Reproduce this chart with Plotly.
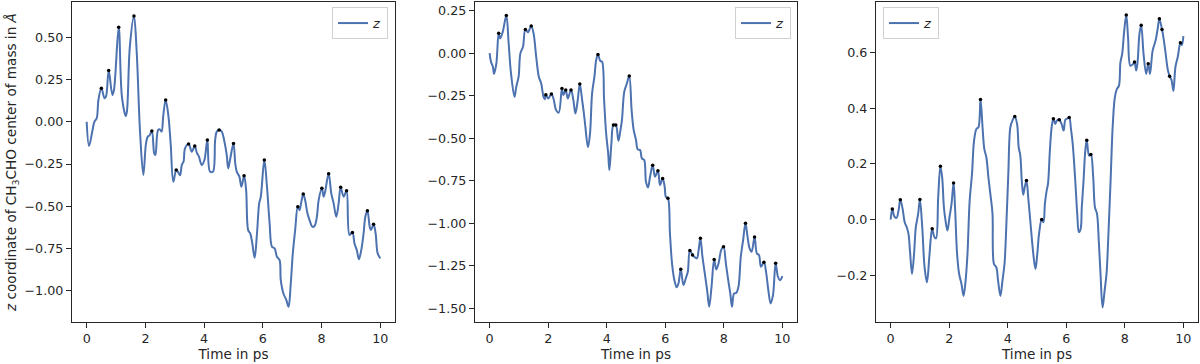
import plotly.graph_objects as go

# panel 1: z coordinate of CH3CHO centre of mass (run 1)
t1 = [0.00, 0.08, 0.20, 0.26, 0.34, 0.40, 0.50, 0.61, 0.66, 0.75, 0.875, 0.93, 1.09, 1.20, 1.33, 1.37,
      1.47, 1.61, 1.70, 1.82, 1.93, 2.02, 2.08, 2.14, 2.22, 2.30, 2.34, 2.43, 2.49, 2.55, 2.61, 2.69,
      2.78, 2.86, 2.95, 3.05, 3.12, 3.18, 3.24, 3.30, 3.35, 3.47, 3.58, 3.68, 3.75, 3.82, 3.92, 4.01,
      4.11, 4.20, 4.30, 4.375, 4.43, 4.51, 4.60, 4.68, 4.77, 4.82, 4.89, 5.00, 5.06, 5.11, 5.20, 5.27,
      5.36, 5.43, 5.50, 5.57, 5.64, 5.72, 5.80, 5.875, 5.93, 6.05, 6.14, 6.23, 6.31, 6.40, 6.48, 6.57,
      6.61, 6.70, 6.80, 6.875, 6.95, 7.02, 7.10, 7.19, 7.25, 7.31, 7.375, 7.44, 7.52, 7.61, 7.68, 7.76,
      7.84, 7.90, 8.01, 8.07, 8.12, 8.24, 8.33, 8.41, 8.50, 8.58, 8.65, 8.75, 8.85, 8.95, 9.05, 9.12,
      9.20, 9.27, 9.35, 9.43, 9.49, 9.56, 9.64, 9.68, 9.77, 9.84, 9.91, 10.0]
z1 = [0.000, -0.143, -0.049, 0.000, 0.020, 0.129, 0.198, 0.139, 0.150, 0.303, 0.159, 0.190, 0.559, 0.149, 0.034, 0.060,
      0.445, 0.626, 0.425, -0.068, -0.315, -0.128, -0.088, -0.080, -0.055, -0.187, -0.197, -0.049, -0.045, -0.058, 0.040, 0.129,
      0.040, -0.128, -0.355, -0.285, -0.300, -0.317, -0.255, -0.235, -0.157, -0.132, -0.177, -0.143, -0.182, -0.205, -0.256, -0.226,
      -0.108, -0.295, -0.295, -0.108, -0.058, -0.049, -0.058, -0.108, -0.197, -0.276, -0.217, -0.128, -0.246, -0.295, -0.325, -0.384,
      -0.319, -0.404, -0.641, -0.661, -0.720, -0.805, -0.661, -0.483, -0.443, -0.226, -0.384, -0.601, -0.739, -0.749, -0.799, -0.819,
      -0.937, -1.016, -1.055, -1.095, -0.957, -0.779, -0.641, -0.503, -0.523, -0.474, -0.428, -0.464, -0.543, -0.592, -0.621, -0.617,
      -0.562, -0.464, -0.394, -0.443, -0.414, -0.307, -0.424, -0.483, -0.562, -0.483, -0.388, -0.443, -0.408, -0.670, -0.655, -0.720,
      -0.760, -0.814, -0.760, -0.661, -0.562, -0.526, -0.622, -0.641, -0.607, -0.661, -0.779, -0.808]
peak_t1 = [0.50, 0.75, 1.09, 1.61, 2.22, 2.69, 3.05, 3.47, 3.68, 4.11, 4.51, 5.00, 5.36, 6.05, 7.19, 7.375,
           8.01, 8.24, 8.65, 8.85, 9.05, 9.56, 9.77]
peak_z1 = [0.198, 0.303, 0.559, 0.626, -0.055, 0.129, -0.285, -0.132, -0.143, -0.108, -0.049, -0.128, -0.319, -0.226, -0.503, -0.428,
           -0.394, -0.307, -0.388, -0.408, -0.655, -0.526, -0.607]

# panel 2
t2 = [0.00, 0.045, 0.11, 0.15, 0.23, 0.31, 0.36, 0.45, 0.57, 0.65, 0.73, 0.85, 0.91, 0.99, 1.05, 1.14,
      1.22, 1.31, 1.42, 1.50, 1.59, 1.68, 1.76, 1.84, 1.88, 1.92, 2.00, 2.11, 2.18, 2.27, 2.36, 2.47,
      2.52, 2.60, 2.67, 2.78, 2.86, 2.93, 3.01, 3.08, 3.16, 3.22, 3.27, 3.36, 3.43, 3.50, 3.58, 3.64,
      3.70, 3.78, 3.84, 3.91, 3.98, 4.05, 4.09, 4.16, 4.23, 4.31, 4.40, 4.47, 4.52, 4.60, 4.69, 4.77,
      4.85, 4.92, 5.00, 5.06, 5.14, 5.20, 5.28, 5.34, 5.41, 5.48, 5.57, 5.65, 5.75, 5.82, 5.91, 5.98,
      6.02, 6.09, 6.16, 6.23, 6.31, 6.39, 6.45, 6.53, 6.62, 6.70, 6.77, 6.84, 6.93, 6.99, 7.08, 7.14,
      7.20, 7.27, 7.35, 7.43, 7.50, 7.58, 7.67, 7.74, 7.82, 7.91, 7.99, 8.07, 8.15, 8.22, 8.28, 8.35,
      8.42, 8.50, 8.58, 8.66, 8.74, 8.81, 8.88, 8.95, 9.05, 9.13, 9.20, 9.27, 9.37, 9.45, 9.52, 9.60,
      9.68, 9.77, 9.85, 9.92, 10.0]
z2 = [0.000, -0.050, -0.079, -0.122, -0.060, 0.117, 0.087, 0.127, 0.221, 0.058, -0.118, -0.256, -0.197, -0.138, -0.001, 0.038,
      0.140, 0.123, 0.160, 0.117, -0.020, -0.138, -0.177, -0.256, -0.271, -0.244, -0.266, -0.240, -0.266, -0.334, -0.350, -0.207,
      -0.246, -0.216, -0.266, -0.216, -0.275, -0.354, -0.275, -0.181, -0.275, -0.354, -0.432, -0.553, -0.471, -0.236, -0.138, -0.040,
      -0.007, -0.046, -0.050, -0.275, -0.471, -0.589, -0.687, -0.530, -0.422, -0.422, -0.514, -0.451, -0.393, -0.226, -0.177, -0.134,
      -0.334, -0.451, -0.510, -0.565, -0.569, -0.618, -0.628, -0.755, -0.789, -0.726, -0.659, -0.726, -0.691, -0.775, -0.736, -0.785,
      -0.844, -0.853, -1.060, -1.235, -1.333, -1.376, -1.353, -1.270, -1.363, -1.324, -1.285, -1.160, -1.186, -1.196, -1.206, -1.157,
      -1.088, -1.196, -1.294, -1.392, -1.490, -1.373, -1.212, -1.271, -1.236, -1.157, -1.137, -1.236, -1.334, -1.412, -1.490, -1.412,
      -1.410, -1.373, -1.196, -1.098, -1.000, -1.078, -1.147, -1.167, -1.080, -1.177, -1.186, -1.255, -1.229, -1.294, -1.392, -1.471,
      -1.422, -1.235, -1.314, -1.334, -1.310]
peak_t2 = [0.31, 0.57, 1.22, 1.42, 1.92, 2.11, 2.47, 2.60, 2.78, 3.08, 3.70, 4.23, 4.31, 4.77, 5.57, 5.75,
           5.91, 6.09, 6.53, 6.84, 6.93, 7.20, 7.67, 7.99, 8.74, 9.05, 9.37, 9.77]
peak_z2 = [0.117, 0.221, 0.140, 0.160, -0.244, -0.240, -0.207, -0.216, -0.216, -0.181, -0.007, -0.422, -0.422, -0.134, -0.659, -0.691,
           -0.736, -0.853, -1.270, -1.160, -1.186, -1.088, -1.212, -1.137, -1.000, -1.080, -1.229, -1.235]

# panel 3
t3 = [0.00, 0.057, 0.125, 0.20, 0.27, 0.33, 0.41, 0.48, 0.55, 0.61, 0.66, 0.73, 0.80, 0.86, 0.94, 1.00,
      1.08, 1.16, 1.24, 1.32, 1.375, 1.42, 1.49, 1.55, 1.625, 1.70, 1.76, 1.82, 1.875, 1.94, 2.01, 2.08,
      2.15, 2.20, 2.27, 2.34, 2.42, 2.49, 2.56, 2.625, 2.70, 2.78, 2.85, 2.93, 3.00, 3.07, 3.14, 3.20,
      3.27, 3.34, 3.42, 3.48, 3.53, 3.61, 3.67, 3.75, 3.82, 3.89, 3.95, 4.02, 4.09, 4.16, 4.24, 4.32,
      4.375, 4.43, 4.48, 4.53, 4.58, 4.64, 4.70, 4.77, 4.84, 4.90, 4.95, 5.01, 5.07, 5.16, 5.22, 5.27,
      5.33, 5.375, 5.44, 5.50, 5.56, 5.625, 5.68, 5.76, 5.84, 5.91, 5.97, 6.03, 6.10, 6.16, 6.22, 6.30,
      6.375, 6.43, 6.49, 6.53, 6.59, 6.65, 6.70, 6.78, 6.84, 6.92, 6.98, 7.05, 7.11, 7.17, 7.24, 7.31,
      7.375, 7.44, 7.51, 7.59, 7.66, 7.73, 7.80, 7.85, 7.91, 7.98, 8.05, 8.11, 8.19, 8.27, 8.33, 8.39,
      8.44, 8.50, 8.56, 8.64, 8.73, 8.80, 8.86, 8.95, 9.05, 9.13, 9.18, 9.27, 9.30, 9.38, 9.47, 9.53,
      9.60, 9.66, 9.73, 9.81, 9.90, 9.95, 10.0]
z3 = [0.000, 0.038, 0.011, 0.006, 0.032, 0.071, 0.038, -0.010, -0.028, -0.052, -0.112, -0.196, -0.124, -0.028, 0.020, 0.072,
      -0.028, -0.172, -0.226, -0.136, -0.064, -0.033, -0.062, -0.068, 0.080, 0.192, 0.152, 0.044, -0.004, -0.040, 0.008, 0.056,
      0.131, 0.044, -0.124, -0.196, -0.232, -0.275, -0.221, -0.124, 0.068, 0.164, 0.284, 0.326, 0.332, 0.432, 0.332, 0.254,
      0.224, 0.152, 0.080, 0.020, -0.160, -0.172, -0.220, -0.275, -0.220, -0.160, -0.028, 0.164, 0.332, 0.356, 0.371, 0.344,
      0.260, 0.230, 0.140, 0.089, 0.116, 0.140, 0.080, -0.004, -0.088, -0.148, -0.178, -0.124, -0.052, 0.000, -0.010, 0.056,
      0.104, 0.128, 0.248, 0.332, 0.363, 0.344, 0.356, 0.359, 0.344, 0.320, 0.359, 0.363, 0.367, 0.326, 0.272, 0.152,
      0.020, -0.046, -0.034, 0.044, 0.140, 0.248, 0.285, 0.230, 0.234, 0.152, 0.044, 0.020, -0.076, -0.196, -0.317, -0.256,
      -0.196, -0.052, 0.128, 0.344, 0.440, 0.470, 0.482, 0.566, 0.596, 0.680, 0.736, 0.656, 0.554, 0.558, 0.567, 0.536,
      0.572, 0.668, 0.699, 0.596, 0.524, 0.561, 0.524, 0.608, 0.644, 0.692, 0.723, 0.684, 0.668, 0.610, 0.538, 0.516,
      0.500, 0.463, 0.550, 0.586, 0.636, 0.628, 0.660]
peak_t3 = [0.057, 0.33, 1.00, 1.42, 1.70, 2.15, 3.07, 4.24, 4.64, 5.16, 5.56, 5.76, 6.10, 6.70, 6.84, 8.05,
           8.33, 8.56, 8.80, 9.18, 9.27, 9.53, 9.90]
peak_z3 = [0.038, 0.071, 0.072, -0.033, 0.192, 0.131, 0.432, 0.371, 0.140, 0.000, 0.363, 0.359, 0.367, 0.285, 0.234, 0.736,
           0.567, 0.699, 0.561, 0.723, 0.684, 0.516, 0.636]

panels = [(t1, z1, peak_t1, peak_z1), (t2, z2, peak_t2, peak_z2), (t3, z3, peak_t3, peak_z3)]

LINE = "#4c72b0"
INK = "#262626"
FONT = "DejaVu Sans"

fig = go.Figure()

domains = [(72 / 1200, 395 / 1200), (475 / 1200, 797 / 1200), (876 / 1200, 1198 / 1200)]
yranges = [(-1.185, 0.709), (-1.58, 0.301), (-0.369, 0.783)]
ydticks = [0.25, 0.25, 0.2]
yformats = [".2f", ".2f", ".1f"]
legends = [
    dict(x=388 / 1200, xanchor="right"),
    dict(x=791 / 1200, xanchor="right"),
    dict(x=883 / 1200, xanchor="left"),
]

for i, (t, z, pt, pz) in enumerate(panels):
    n = "" if i == 0 else str(i + 1)
    leg = "legend" + n
    fig.add_trace(
        go.Scatter(
            x=t, y=z,
            xaxis="x" + n, yaxis="y" + n,
            mode="lines",
            name="<i>z</i>",
            line=dict(color=LINE, width=2, shape="spline", smoothing=1.0),
            legend=leg,
            showlegend=True,
        )
    )
    fig.add_trace(
        go.Scatter(
            x=pt, y=pz,
            xaxis="x" + n, yaxis="y" + n,
            mode="markers",
            marker=dict(color="black", size=3.5),
            showlegend=False,
        )
    )

    axis_style = dict(
        showline=True, linecolor=INK, linewidth=1.25, mirror=True,
        ticks="outside", ticklen=5, tickwidth=1.2, tickcolor=INK,
        showgrid=False, zeroline=False,
        tickfont=dict(family=FONT, size=12.7, color=INK),
    )
    fig.update_layout({
        "xaxis" + n: dict(
            domain=list(domains[i]), anchor="y" + n,
            range=[-0.5, 10.5], tickvals=[0, 2, 4, 6, 8, 10],
            title=dict(text="Time in ps", font=dict(family=FONT, size=13.6, color=INK), standoff=3),
            **axis_style,
        ),
        "yaxis" + n: dict(
            domain=[0, 1], anchor="x" + n,
            range=list(yranges[i]), dtick=ydticks[i], tick0=0, tickformat=yformats[i],
            **axis_style,
        ),
        leg: dict(
            y=0.984, yanchor="top",
            bgcolor="rgba(255,255,255,0.8)", bordercolor="#d0d0d0", borderwidth=1,
            font=dict(family=FONT, size=13, color=INK),
            itemwidth=30,
            **legends[i],
        ),
    })

fig.update_layout(
    yaxis_title=dict(
        text="<i>z</i> coordinate of CH<sub>3</sub>CHO center of mass in <i>Å</i>",
        font=dict(family=FONT, size=13.6, color=INK),
        standoff=4,
    ),
    width=1200, height=364,
    margin=dict(l=0, r=0, t=2, b=42),
    paper_bgcolor="white", plot_bgcolor="white",
    font=dict(family=FONT, color=INK),
)

# drop the browser's default 8px page margin so the figure sits at the window's corner
fig.write_html(
    "out.html",
    config={"displayModeBar": False},
    post_script="document.body.style.margin='0';",
)
